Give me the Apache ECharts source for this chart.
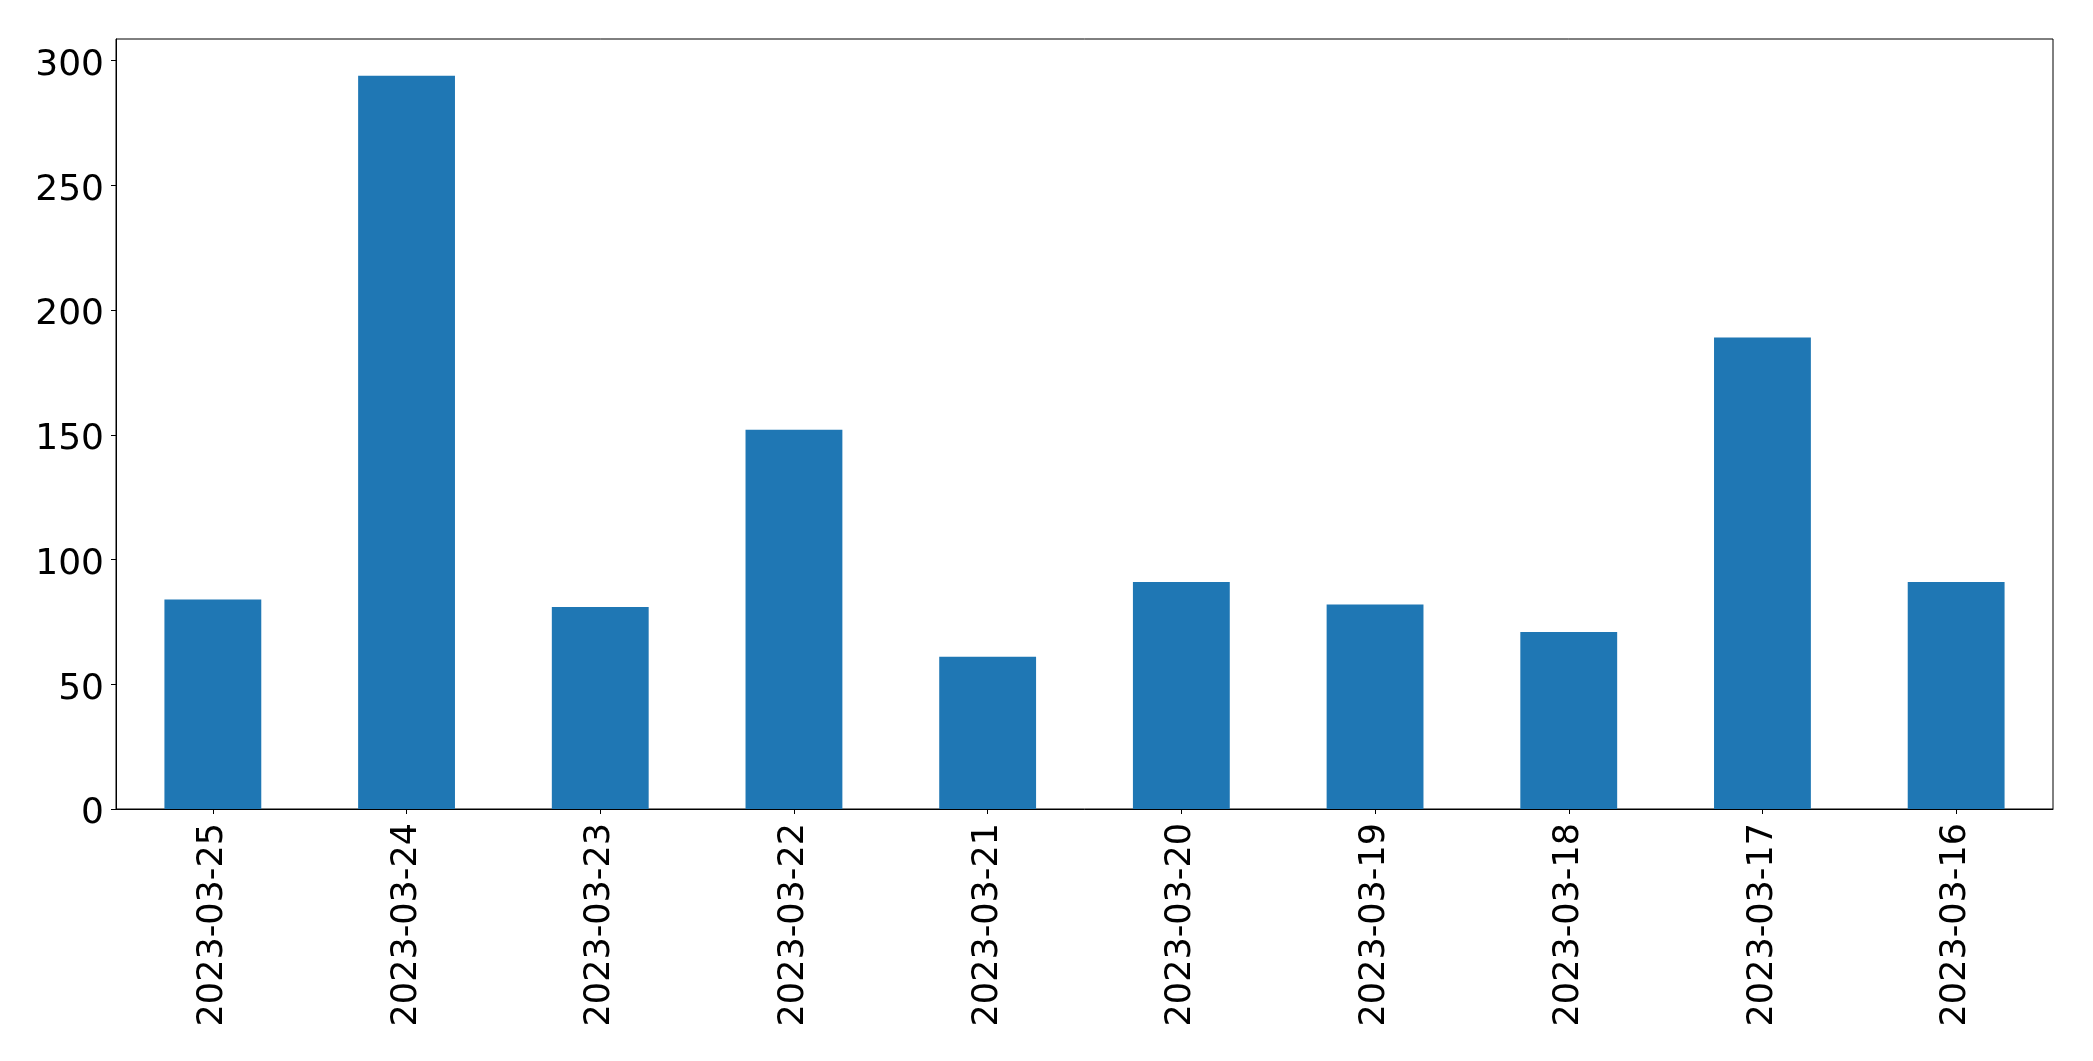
<!DOCTYPE html>
<html>
<head>
<meta charset="utf-8">
<script src="https://cdn.jsdelivr.net/npm/echarts@6/dist/echarts.min.js"></script>
<style>
html,body{margin:0;padding:0;background:#fff;}
#main{width:2093px;height:1061px;}
</style>
</head>
<body>
<div id="main"></div>
<script>
const categories = ['2023-03-25','2023-03-24','2023-03-23','2023-03-22','2023-03-21','2023-03-20','2023-03-19','2023-03-18','2023-03-17','2023-03-16'];
const values = [84, 294, 81, 152, 61, 91, 82, 71, 189, 91];
const yTicks = [0, 50, 100, 150, 200, 250, 300];

const yMax = Math.max(...values) * 1.05;
const chart = echarts.init(document.getElementById('main'), null, {renderer: 'canvas'});
const font = 'DejaVu Sans';
chart.setOption({
  animation: false,
  backgroundColor: '#ffffff',
  grid: {left: 116, right: 40, top: 39, bottom: 252, show: true, borderColor: '#000', borderWidth: 1, backgroundColor: 'transparent'},
  xAxis: {
    type: 'category',
    data: categories,
    boundaryGap: true,
    axisLine: {show: true, lineStyle: {color: '#000', width: 1}},
    axisTick: {show: true, alignWithLabel: true, length: 5, lineStyle: {color: '#000', width: 1}},
    axisLabel: {rotate: 90, color: '#000', fontSize: 35, fontFamily: font, margin: 14},
    splitLine: {show: false}
  },
  yAxis: {
    type: 'value',
    min: yTicks[0],
    max: yMax,
    interval: yTicks[1] - yTicks[0],
    axisLine: {show: true, lineStyle: {color: '#000', width: 1}},
    axisTick: {show: true, length: 5, lineStyle: {color: '#000', width: 1}},
    axisLabel: {color: '#000', fontSize: 36, fontFamily: font, margin: 12, showMaxLabel: false,
      formatter: '{a|{value}}', rich: {a: {fontSize: 36, fontFamily: font, color: '#000', padding: [10, 0, 0, 0]}}},
    splitLine: {show: false}
  },
  series: [{
    type: 'bar',
    data: values,
    barWidth: '50%',
    itemStyle: {color: '#1f77b4'}
  }]
});
</script>
</body>
</html>
